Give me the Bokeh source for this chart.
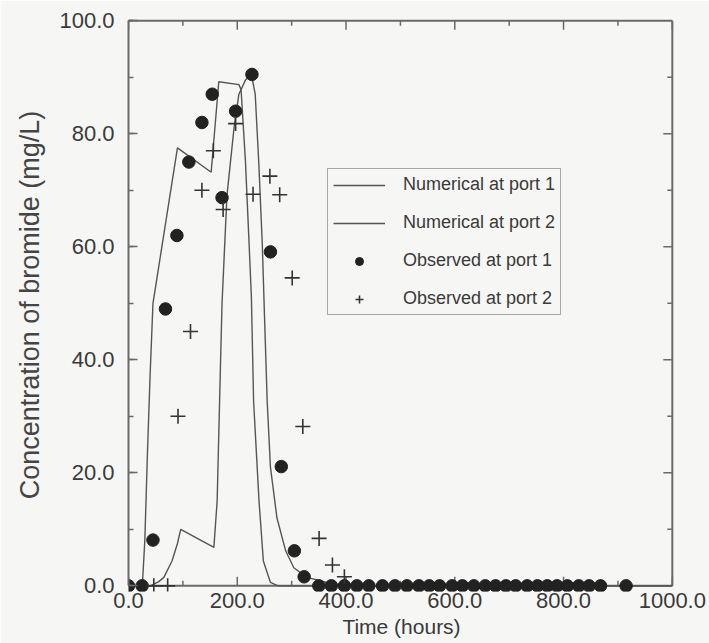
from bokeh.plotting import figure
from bokeh.models import SingleIntervalTicker, NumeralTickFormatter, Range1d
from bokeh.embed import file_html
from bokeh.resources import INLINE

# ---- data ----
num1_t = [0, 22, 26, 30, 35, 40, 45, 90, 152, 166, 203, 207, 215, 221, 226, 230, 240, 248, 261, 275, 1000]
num1_c = [0, 0, 1.0, 8.0, 24.0, 38.0, 50.0, 77.5, 73.2, 89.2, 88.7, 87.8, 75.2, 62.2, 51.0, 32.7, 15.0, 4.4, 0.6, 0, 0]

num2_t = [0, 40, 46.5, 55, 65, 80, 90, 96, 157, 163, 169, 172, 181, 194, 203, 215, 226, 233, 239.5, 246,
          250, 255, 261, 273, 289, 304, 328, 365, 400, 1000]
num2_c = [0, 0, 0.3, 0.7, 1.5, 4.4, 7.5, 10.0, 6.8, 15.0, 38.6, 50.0, 69.0, 81.0, 87.0, 89.5, 90.5, 87.0, 75.0, 60.5,
          48.0, 32.7, 21.0, 12.0, 6.2, 3.2, 1.5, 0.6, 0, 0]

obs1_t = [0, 25, 45, 68, 89, 111, 135, 154, 172, 197, 227, 261, 281, 305, 323,
          350, 373, 397, 420, 442, 467, 490, 512, 534, 553, 572, 595, 614, 635, 656,
          675, 694, 712, 733, 752, 770, 788, 807, 828, 847, 868, 915]
obs1_c = [0, 0, 8.1, 49.0, 62.0, 75.0, 82.0, 87.0, 68.7, 84.0, 90.5, 59.1, 21.1, 6.2, 1.6,
          0, 0, 0, 0, 0, 0, 0, 0, 0, 0, 0, 0, 0, 0, 0,
          0, 0, 0, 0, 0, 0, 0, 0, 0, 0, 0, 0]

obs2_t = [46.5, 72, 91, 114, 135, 156, 174, 197, 229, 260, 278, 301, 320.5, 350.5, 375, 397]
obs2_c = [0, 0, 30.0, 45.0, 70.0, 77.0, 66.6, 81.8, 69.3, 72.5, 69.2, 54.5, 28.2, 8.4, 3.7, 1.6]

x_label = "Time (hours)"
y_label = "Concentration of bromide (mg/L)"
legend_labels = ["Numerical at port 1", "Numerical at port 2", "Observed at port 1", "Observed at port 2"]

X_MAX, Y_MAX = 1000, 100
X_STEP, Y_STEP = 200, 20

BG = "#f6f6f4"
FRAME = "#6a6a6a"
TXT = "#3a3a3a"
FONT = "Liberation Sans"

p = figure(width=709, height=643, frame_width=546, frame_height=573,
           output_backend="svg", toolbar_location=None,
           x_range=Range1d(0, X_MAX + 4), y_range=Range1d(-1.0, Y_MAX + 0.4),
           min_border_left=128, min_border_right=35, min_border_top=18, min_border_bottom=52,
           background_fill_color=BG, border_fill_color=BG, outline_line_color=None,
           x_axis_label=x_label, y_axis_label=y_label)
p.grid.visible = False

# bottom axis: labels only (line and ticks drawn at y = 0 below)
xa = p.xaxis[0]
xa.ticker = SingleIntervalTicker(interval=X_STEP, num_minor_ticks=2)
xa.formatter = NumeralTickFormatter(format="0.0")
xa.axis_line_color = None
xa.major_tick_line_color = None
xa.minor_tick_line_color = None
xa.major_tick_in = 0
xa.major_tick_out = 0
xa.minor_tick_in = 0
xa.minor_tick_out = 0
xa.major_label_standoff = 1
xa.axis_label_standoff = 4
xa.major_label_text_font = FONT
xa.major_label_text_font_size = "22px"
xa.major_label_text_color = TXT
xa.axis_label_text_font = FONT
xa.axis_label_text_font_size = "21px"
xa.axis_label_text_font_style = "normal"
xa.axis_label_text_color = TXT

ya = p.yaxis[0]
ya.ticker = SingleIntervalTicker(interval=Y_STEP, num_minor_ticks=2)
ya.formatter = NumeralTickFormatter(format="0.0")
ya.bounds = (0, Y_MAX)
ya.axis_line_color = FRAME
ya.axis_line_width = 2
ya.major_tick_line_color = FRAME
ya.minor_tick_line_color = FRAME
ya.major_tick_line_width = 1.5
ya.minor_tick_line_width = 1.5
ya.major_tick_in = 9
ya.major_tick_out = 0
ya.minor_tick_in = 5
ya.minor_tick_out = 0
ya.major_label_standoff = 14
ya.axis_label_standoff = 11
ya.major_label_text_font = FONT
ya.major_label_text_font_size = "22px"
ya.major_label_text_color = TXT
ya.axis_label_text_font = FONT
ya.axis_label_text_font_size = "27px"
ya.axis_label_text_font_style = "normal"
ya.axis_label_text_color = "#454545"

# frame lines: bottom (x axis at 0), top, right
p.segment(x0=[0, 0, X_MAX], y0=[0, Y_MAX, 0], x1=[X_MAX, X_MAX, X_MAX], y1=[0, Y_MAX, Y_MAX],
          line_color=FRAME, line_width=2)

# inward tick marks on bottom, top and right sides
PX_X = 546 / (X_MAX + 4)      # pixels per hour
PX_Y = 573 / (Y_MAX + 1.4)    # pixels per mg/L
maj_x = list(range(0, X_MAX + 1, X_STEP))
min_x = list(range(X_STEP // 2, X_MAX, X_STEP))
maj_y = list(range(Y_STEP, Y_MAX, Y_STEP))
min_y = list(range(Y_STEP // 2, Y_MAX, Y_STEP))
dmy, dmny = 9 / PX_Y, 5 / PX_Y
dmx, dmnx = 9 / PX_X, 5 / PX_X
tx0 = maj_x + min_x + maj_x + min_x
ty0 = [0] * len(maj_x) + [0] * len(min_x) + [Y_MAX] * len(maj_x) + [Y_MAX] * len(min_x)
ty1 = ([dmy] * len(maj_x) + [dmny] * len(min_x) +
       [Y_MAX - dmy] * len(maj_x) + [Y_MAX - dmny] * len(min_x))
p.segment(x0=tx0, y0=ty0, x1=tx0, y1=ty1, line_color=FRAME, line_width=1.5)
ry = maj_y + min_y
rx1 = [X_MAX - dmx] * len(maj_y) + [X_MAX - dmnx] * len(min_y)
p.segment(x0=[X_MAX] * len(ry), y0=ry, x1=rx1, y1=ry, line_color=FRAME, line_width=1.5)

LINE = "#555555"
p.line(num1_t, num1_c, line_color=LINE, line_width=1.4, legend_label=legend_labels[0])
p.line(num2_t, num2_c, line_color=LINE, line_width=1.4, legend_label=legend_labels[1])
p.scatter(obs1_t, obs1_c, marker="circle", size=12.5, fill_color="#222222", line_color="#222222",
          legend_label=legend_labels[2])
p.scatter(obs2_t, obs2_c, marker="cross", size=15, line_color="#333333", line_width=1.6,
          legend_label=legend_labels[3])

lg = p.legend[0]
lg.location = (199, 276)
lg.border_line_color = "#555555"
lg.border_line_width = 1.5
lg.background_fill_color = BG
lg.background_fill_alpha = 1.0
lg.label_text_font = FONT
lg.label_text_font_size = "18px"
lg.label_text_color = TXT
lg.glyph_width = 52
lg.glyph_height = 20
lg.label_height = 20
lg.label_standoff = 18
lg.padding = 5
lg.spacing = 17
lg.margin = 0

open("out.html", "w").write(file_html(p, INLINE))
